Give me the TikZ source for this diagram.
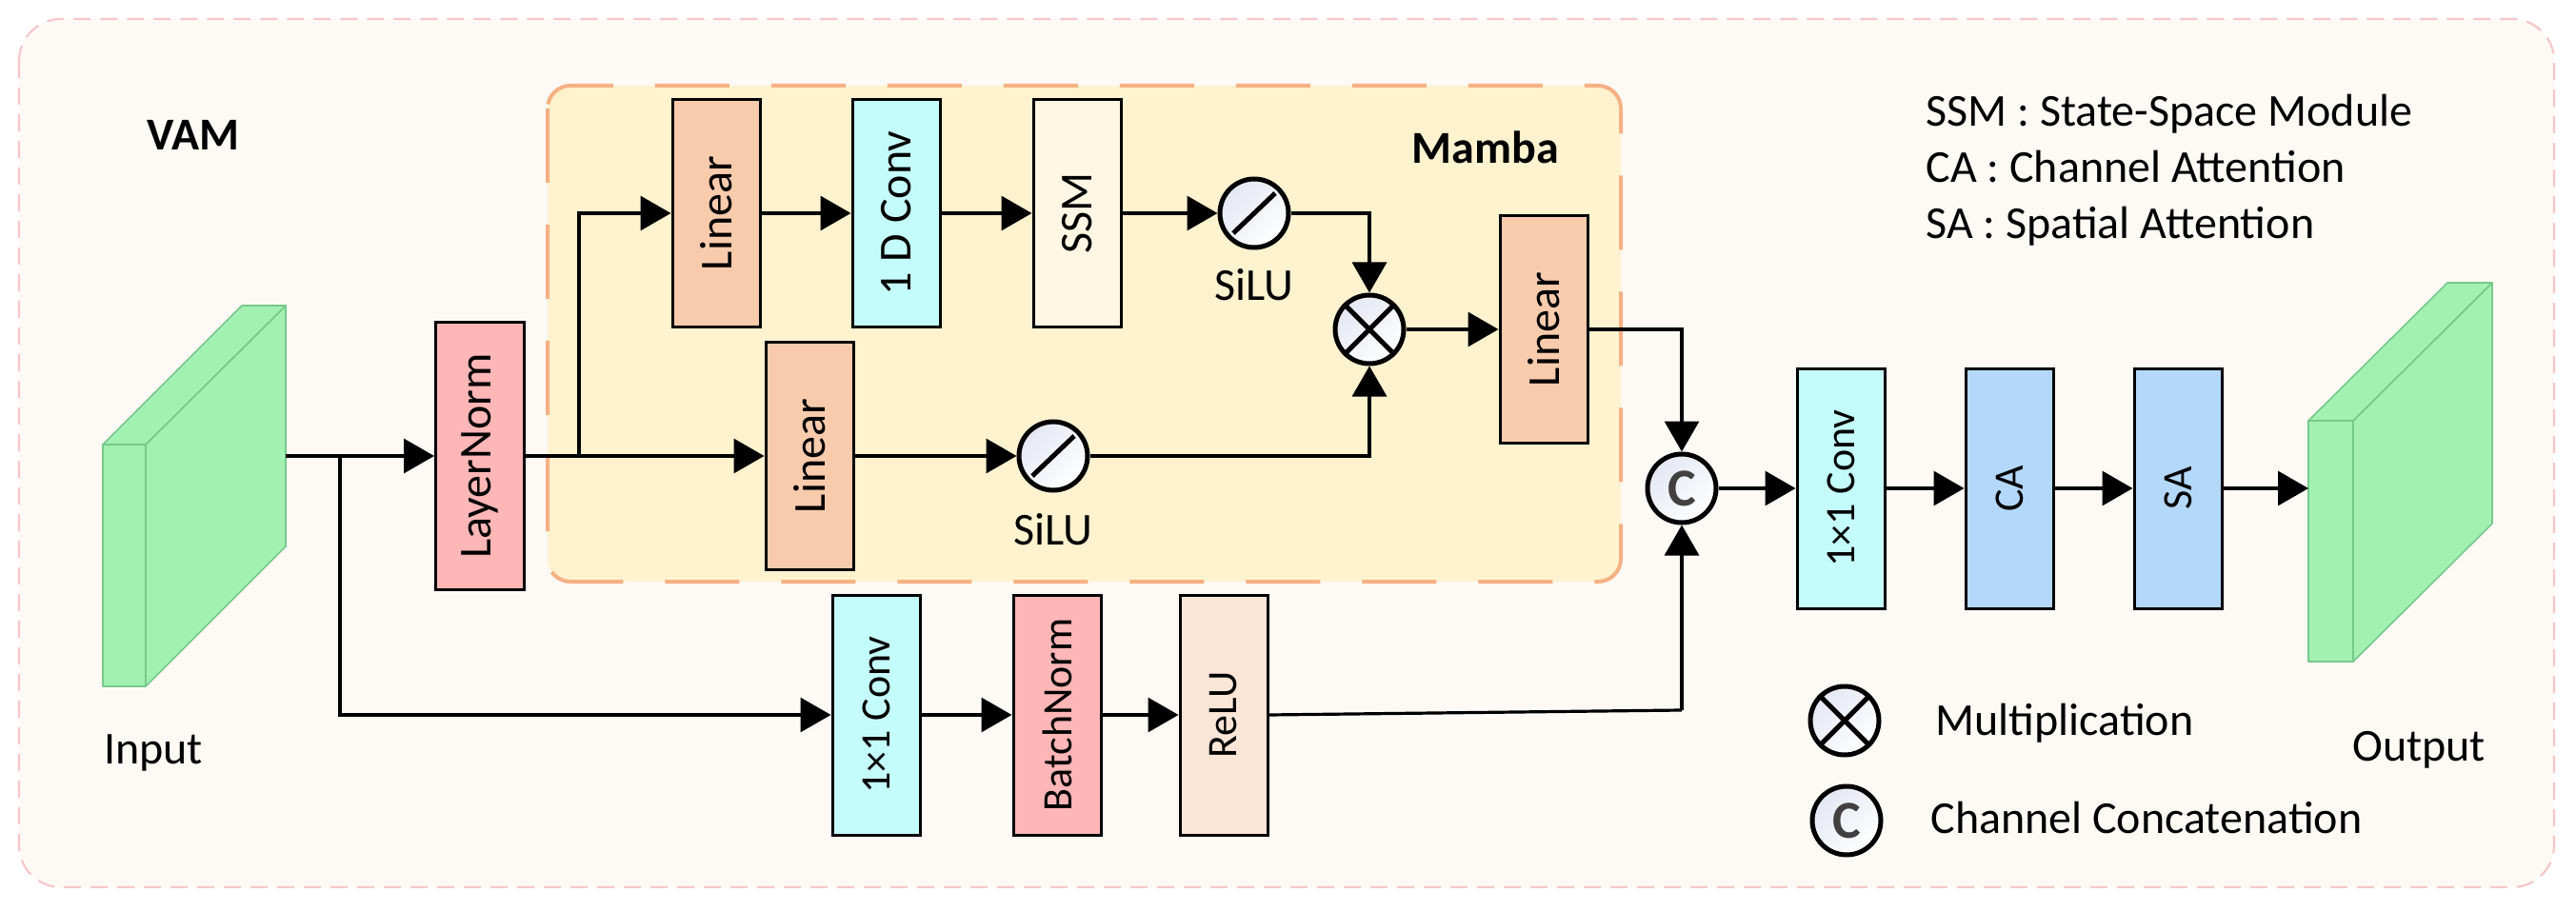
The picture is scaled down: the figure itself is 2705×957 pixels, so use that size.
\documentclass[tikz,border=0pt]{standalone}
\usepackage{fontspec}
\setmainfont{Carlito}
\usepackage{graphicx}
\usetikzlibrary{arrows.meta,calc}
\definecolor{bgfill}{HTML}{FDF9F5}
\definecolor{bgedge}{HTML}{F7C6CA}
\definecolor{mfill}{HTML}{FFF2CF}
\definecolor{medge}{HTML}{F5B183}
\definecolor{linfill}{HTML}{F8CBAD}
\definecolor{cyanfill}{HTML}{C4FCFC}
\definecolor{pinkfill}{HTML}{FFB6B6}
\definecolor{relufill}{HTML}{FBE5D6}
\definecolor{bluefill}{HTML}{B4D8FA}
\definecolor{ssmfill}{HTML}{FFF7E3}
\definecolor{grfill}{HTML}{A3F0B3}
\definecolor{gredge}{HTML}{77C98A}
\definecolor{circA}{HTML}{E4E7F3}
\definecolor{cgray}{HTML}{404040}
\newcommand\myfa{\fontsize{24}{28}\selectfont}
\newcommand\myfb{\fontsize{22}{26}\selectfont}
\newcommand\myfc{\fontsize{28}{32}\selectfont\bfseries}
\begin{document}
\begin{tikzpicture}[x=0.5pt,y=-0.5pt,
  outerbox/.style={draw=bgedge, fill=bgfill, line width=1.1pt, dash pattern=on 9pt off 5pt, rounded corners=22pt},
  mambabox/.style={draw=medge, fill=mfill, line width=2pt, dash pattern=on 39pt off 22pt, rounded corners=12pt},
  blk/.style={draw=black, line width=1.5pt, inner sep=0pt, minimum width=46pt},
  mbox/.style={blk, minimum height=119.5pt, font=\myfa},
  sbox/.style={blk, minimum height=126pt, font=\myfb},
  circ/.style={circle, draw=black, line width=2.5pt, minimum size=36pt, inner sep=0pt, top color=circA, bottom color=white, shading angle=45},
  txt/.style={inner sep=0pt, font=\myfa},
  ln/.style={line width=1.6pt},
  arr/.style={line width=1.6pt, -{Triangle[length=16pt,width=18pt]}},
  cube/.style={fill=grfill, draw=gredge, line width=0.8pt, line join=round}
]
\useasboundingbox (0,0) rectangle (2705,957);
\draw[outerbox] (20,20) rectangle (2682,932);
\draw[mambabox] (575,90) rectangle (1702,611);

% input cuboid
\draw[cube] (108,467) rectangle (153,721);
\draw[cube] (153,467) -- (300,321) -- (300,574) -- (153,721) -- cycle;
\draw[cube] (108,467) -- (254,321) -- (300,321) -- (153,467) -- cycle;
\coordinate (inR) at (300,479);
% output cuboid
\draw[cube] (2424,442) rectangle (2471,695);
\draw[cube] (2471,442) -- (2617,297) -- (2617,550) -- (2471,695) -- cycle;
\draw[cube] (2424,442) -- (2570,297) -- (2617,297) -- (2471,442) -- cycle;
\coordinate (outL) at (2424,513);

% labels
\node[txt, anchor=base, font=\myfa\bfseries] (vam) at (203,158) {VAM};
\node[txt, anchor=base, font=\myfa\bfseries] (mamba) at (1560,172) {Mamba};
\node[txt, anchor=base] (inlab) at (161,802) {Input};
\node[txt, anchor=base] (outlab) at (2540,799) {Output};
\node[txt, anchor=base west] (lg1) at (2022,133) {SSM : State-Space Module};
\node[txt, anchor=base west] (lg2) at (2022,192) {CA : Channel Attention};
\node[txt, anchor=base west] (lg3) at (2022,251) {SA : Spatial Attention};

% blocks
\node[blk, minimum width=46.5pt, minimum height=140pt, fill=pinkfill, font=\myfa] (ln) at (504,479) {\rotatebox{90}{LayerNorm}};
\node[mbox, fill=linfill] (lin1) at (752,224) {\rotatebox{90}{Linear}};
\node[mbox, fill=cyanfill] (conv1d) at (941,224) {\rotatebox{90}{1 D Conv}};
\node[mbox, fill=ssmfill] (ssm) at (1131,224) {\rotatebox{90}{SSM}};
\node[mbox, fill=linfill] (lin2) at (850,479) {\rotatebox{90}{Linear}};
\node[mbox, fill=linfill] (lin3) at (1621,346) {\rotatebox{90}{Linear}};

\node[circ] (silu1) at (1317,224) {};
\draw[line width=2.5pt] ($(silu1.center)+(-22,21)$) -- ($(silu1.center)+(22,-21)$);
\node[txt, anchor=base] (silu1lab) at (1317,315) {SiLU};
\node[circ] (silu2) at (1106,479) {};
\draw[line width=2.5pt] ($(silu2.center)+(-22,21)$) -- ($(silu2.center)+(22,-21)$);
\node[txt, anchor=base] (silu2lab) at (1106,572) {SiLU};
\node[circ] (mult) at (1438,346) {};
\draw[line width=2.5pt] (mult.45) -- (mult.225) (mult.135) -- (mult.315);
\node[circ, font=\myfc, text=cgray] (cat) at (1766,513) {C};

\node[sbox, fill=cyanfill] (bconv) at (920,751) {\rotatebox{90}{1×1 Conv}};
\node[sbox, fill=pinkfill] (bn) at (1110,751) {\rotatebox{90}{BatchNorm}};
\node[sbox, fill=relufill] (relu) at (1285,751) {\rotatebox{90}{ReLU}};

\node[sbox, fill=cyanfill] (rconv) at (1933,513) {\rotatebox{90}{1×1 Conv}};
\node[sbox, fill=bluefill] (ca) at (2110,513) {\rotatebox{90}{CA}};
\node[sbox, fill=bluefill] (sa) at (2287,513) {\rotatebox{90}{SA}};

% legend
\node[circ] (lgm) at (1937,757) {};
\draw[line width=2.5pt] (lgm.45) -- (lgm.225) (lgm.135) -- (lgm.315);
\node[txt, anchor=base west] (lgmt) at (2032,772) {Multiplication};
\node[circ, font=\myfc, text=cgray] (lgc) at (1939,862) {C};
\node[txt, anchor=base west] (lgct) at (2027,875) {Channel Concatenation};

% connectors
\coordinate (b1) at (357,479);
\coordinate (b2) at (608,479);
\coordinate (rc) at (1766,746);
\draw[arr] (inR) -- (ln.west);
\draw[arr] (b1) |- (bconv.west);
\draw[arr] (ln.east) -- (lin2.west);
\draw[arr] (b2) |- (lin1.west);
\draw[arr] (lin1.east) -- (conv1d.west);
\draw[arr] (conv1d.east) -- (ssm.west);
\draw[arr] (ssm.east) -- (silu1.west);
\draw[arr] (silu1.east) -| (mult.north);
\draw[arr] (lin2.east) -- (silu2.west);
\draw[arr] (silu2.east) -| (mult.south);
\draw[arr] (mult.east) -- (lin3.west);
\draw[arr] (lin3.east) -| (cat.north);
\draw[arr] (bconv.east) -- (bn.west);
\draw[arr] (bn.east) -- (relu.west);
\draw[ln] (relu.east) -- (rc);
\draw[arr] (rc) -- (cat.south);
\draw[arr] (cat.east) -- (rconv.west);
\draw[arr] (rconv.east) -- (ca.west);
\draw[arr] (ca.east) -- (sa.west);
\draw[arr] (sa.east) -- (outL);
\end{tikzpicture}
\end{document}
